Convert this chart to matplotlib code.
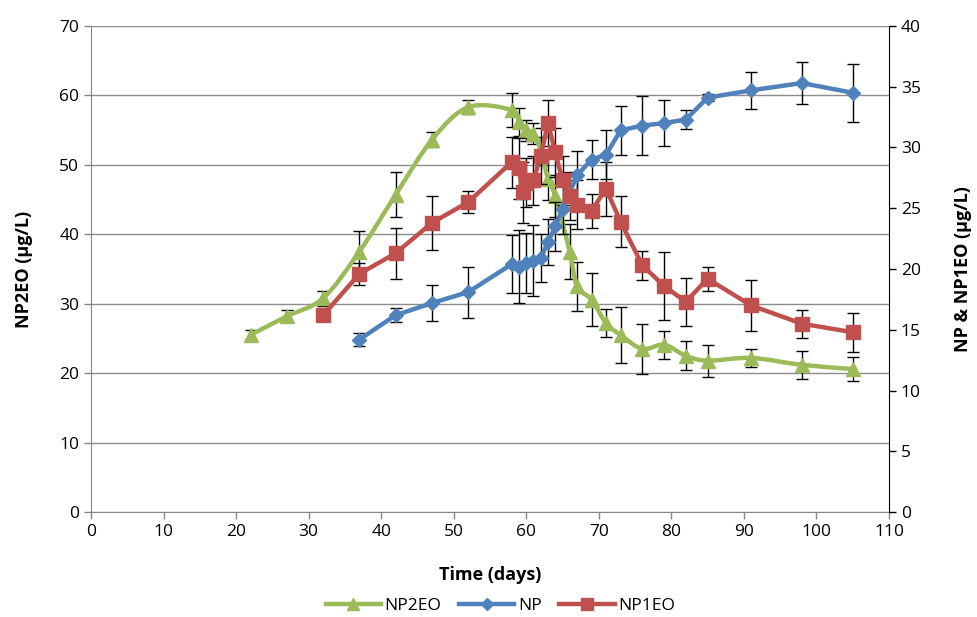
import numpy as np
import matplotlib
matplotlib.use("Agg")
import matplotlib.pyplot as plt
from matplotlib.path import Path
from matplotlib.patches import PathPatch
from matplotlib.lines import Line2D

plt.rcParams['font.family'] = ['Open Sans', 'DejaVu Sans']

# NP2EO (left axis)
np2eo_days = [22, 27, 32, 37, 42, 47, 52, 58, 59, 60, 61, 62, 63, 64, 66, 67,
              69, 71, 73, 76, 79, 82, 85, 91, 98, 105]
np2eo_vals = [25.5, 28.2, 30.8, 37.5, 45.7, 53.6, 58.3, 57.9, 56.2, 55.0, 54.5,
              52.0, 48.0, 45.5, 37.5, 32.5, 30.6, 27.2, 25.5, 23.5, 24.1, 22.5,
              21.8, 22.2, 21.2, 20.6]
np2eo_err = [0.7, 0.9, 1.1, 3.0, 3.2, 1.1, 1.0, 2.5, 2.0, 1.5, 1.5, 2.0, 3.0,
             3.0, 4.0, 3.5, 3.8, 2.0, 4.0, 3.6, 2.0, 2.1, 2.3, 1.3, 2.0, 1.75]

# NP (right axis)
np_days = [37, 42, 47, 52, 58, 59, 60, 61, 62, 63, 64, 65, 67, 69, 71, 73, 76,
           79, 82, 85, 91, 98, 105]
np_vals = [14.2, 16.2, 17.2, 18.1, 20.4, 20.2, 20.5, 20.7, 20.9, 22.2, 23.5,
           24.9, 27.7, 29.0, 29.4, 31.4, 31.8, 32.0, 32.3, 34.1, 34.7, 35.3, 34.5]
np_err = [0.5, 0.6, 1.5, 2.1, 2.4, 3.0, 2.5, 2.9, 2.0, 1.9, 2.0, 2.0, 2.0, 1.6,
          2.0, 2.0, 2.4, 1.9, 0.75, 0.3, 1.5, 1.7, 2.4]

# NP1EO (right axis)
np1eo_days = [32, 37, 42, 47, 52, 58, 59, 59.5, 60, 61, 62, 63, 64, 65, 66, 67,
              69, 71, 73, 76, 79, 82, 85, 91, 98, 105]
np1eo_vals = [16.2, 19.6, 21.3, 23.8, 25.5, 28.8, 28.3, 26.3, 27.1, 27.3, 29.3,
              32.0, 29.6, 27.3, 26.0, 25.3, 24.8, 26.6, 23.9, 20.3, 18.6, 17.3,
              19.2, 17.0, 15.5, 14.8]
np1eo_err = [0.3, 0.9, 2.1, 2.2, 0.9, 2.1, 2.5, 2.5, 2.0, 2.0, 2.3, 1.9, 2.0,
             2.0, 2.0, 2.0, 1.4, 2.2, 2.1, 1.2, 2.8, 2.0, 1.0, 2.1, 1.15, 1.6]

GREEN = '#9BBB59'
BLUE = '#4F81BD'
RED = '#C0504D'
AXIS_GREY = '#868686'


def smooth_path(x, y):
    # Bezier segments with Catmull-Rom style control points (smoothed line)
    pts = np.column_stack([x, y]).astype(float)
    n = len(pts)
    verts = [pts[0]]
    codes = [Path.MOVETO]
    for i in range(n - 1):
        p0 = pts[i - 1] if i > 0 else pts[i]
        p1 = pts[i]
        p2 = pts[i + 1]
        p3 = pts[i + 2] if i + 2 < n else pts[i + 1]
        verts += [p1 + (p2 - p0) / 6, p2 - (p3 - p1) / 6, p2]
        codes += [Path.CURVE4] * 3
    return Path(verts, codes)


fig = plt.figure(figsize=(9.77, 6.17), dpi=100)
ax = fig.add_axes([0.0931, 0.170, 0.8168, 0.788])
ax2 = ax.twinx()

# left axis: NP2EO
ax.errorbar(np2eo_days, np2eo_vals, yerr=np2eo_err, fmt='none', ecolor='black',
            elinewidth=1, capsize=4, capthick=1, zorder=2)
ax.add_patch(PathPatch(smooth_path(np2eo_days, np2eo_vals), facecolor='none',
                       edgecolor=GREEN, lw=3.2, zorder=3, capstyle='round'))
ax.plot(np2eo_days, np2eo_vals, ls='none', marker='^', ms=10, color=GREEN,
        zorder=4)

# right axis: NP and NP1EO
ax2.errorbar(np_days, np_vals, yerr=np_err, fmt='none', ecolor='black',
             elinewidth=1, capsize=4, capthick=1, zorder=2)
ax2.errorbar(np1eo_days, np1eo_vals, yerr=np1eo_err, fmt='none', ecolor='black',
             elinewidth=1, capsize=4, capthick=1, zorder=2)
ax2.plot(np_days, np_vals, color=BLUE, lw=3.2, marker='D', ms=7.5, zorder=3,
         solid_joinstyle='round')
ax2.plot(np1eo_days, np1eo_vals, color=RED, lw=3.2, marker='s', ms=10, zorder=4,
         solid_joinstyle='round')

ax.set_xlim(0, 110)
ax.set_ylim(0, 70)
ax2.set_ylim(0, 40)
ax.set_xticks(range(0, 111, 10))
ax.set_yticks(range(0, 71, 10))
ax2.set_yticks(range(0, 41, 5))

ax.yaxis.grid(True, color='#8C8C8C', lw=1)
ax.set_axisbelow(True)

for a in (ax, ax2):
    a.spines['top'].set_visible(False)
    a.tick_params(labelsize=12.5, direction='out', length=5, width=1)
ax.spines['right'].set_visible(False)
ax.spines['left'].set_color(AXIS_GREY)
ax.spines['bottom'].set_color(AXIS_GREY)
ax.tick_params(colors=AXIS_GREY, labelcolor='black')
ax2.spines['left'].set_visible(False)
ax2.spines['bottom'].set_visible(False)
ax2.spines['right'].set_color('black')

ax.set_xlabel('Time (days)', fontsize=13, fontweight='bold', labelpad=19)
ax.set_ylabel('NP2EO (µg/L)', fontsize=13, fontweight='bold', labelpad=19)
ax2.set_ylabel('NP & NP1EO (µg/L)', fontsize=13, fontweight='bold', labelpad=24)

handles = [
    Line2D([], [], color=GREEN, lw=3.2, marker='^', ms=8),
    Line2D([], [], color=BLUE, lw=3.2, marker='D', ms=6),
    Line2D([], [], color=RED, lw=3.2, marker='s', ms=8),
]
fig.legend(handles, ['NP2EO', 'NP', 'NP1EO'], loc='center',
           bbox_to_anchor=(0.512, 0.018), ncol=3, frameon=False, fontsize=12.5,
           handlelength=3.2, handletextpad=0.2, columnspacing=1.0)

fig.savefig('out.png', dpi=100)
